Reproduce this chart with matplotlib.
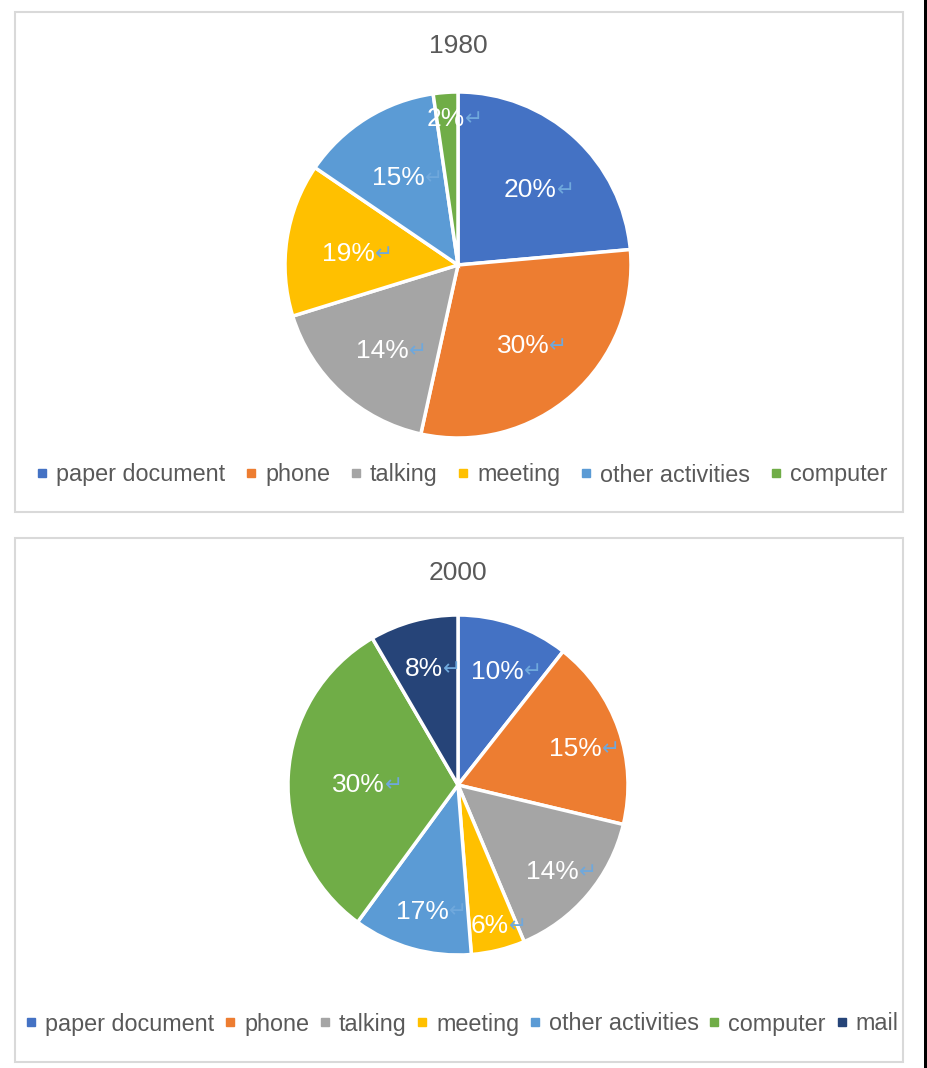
import numpy as np
import matplotlib.pyplot as plt
from matplotlib.patches import Rectangle
from matplotlib.lines import Line2D

W, H = 928, 1068

# 1980 chart: slice sizes, label texts as printed
categories_1980 = ['paper document', 'phone', 'talking', 'meeting', 'other activities', 'computer']
shares_1980 = [23.6, 29.9, 16.8, 14.3, 13.2, 2.3]
labels_1980 = ['20%', '30%', '14%', '19%', '15%', '2%']

# 2000 chart
categories_2000 = ['paper document', 'phone', 'talking', 'meeting', 'other activities', 'computer', 'mail']
shares_2000 = [10.6, 18.1, 14.9, 5.1, 11.3, 31.5, 8.4]
labels_2000 = ['10%', '15%', '14%', '6%', '17%', '30%', '8%']

colors = {
    'paper document': '#4472C4',
    'phone': '#ED7D31',
    'talking': '#A5A5A5',
    'meeting': '#FFC000',
    'other activities': '#5B9BD5',
    'computer': '#70AD47',
    'mail': '#264478',
}

FONT = ['Liberation Sans', 'DejaVu Sans']
TEXT_GRAY = '#595959'


def fx(x):
    return x / W


def fy(y):
    return 1 - y / H


def draw_panel(fig, box, title, title_y, cx, cy, R, cats, shares, labels,
               label_dist, legend_y, colspacing):
    x0, y0, x1, y1 = box
    fig.add_artist(Rectangle((fx(x0), fy(y1)), fx(x1) - fx(x0), fy(y0) - fy(y1),
                             transform=fig.transFigure, facecolor='none',
                             edgecolor='#D9D9D9', linewidth=1.5, zorder=-1))
    fig.text(fx(cx), fy(title_y), title, ha='center', va='center',
             fontsize=19, color=TEXT_GRAY, family=FONT)

    side = 2.5 * R
    ax = fig.add_axes([fx(cx - side / 2), fy(cy + side / 2), side / W, side / H])
    wedges, _ = ax.pie(shares, colors=[colors[c] for c in cats], startangle=90,
                       counterclock=False, radius=1,
                       wedgeprops=dict(edgecolor='white', linewidth=2.5))
    ax.set_xlim(-1.25, 1.25)
    ax.set_ylim(-1.25, 1.25)
    ax.set_aspect('equal')
    ax.axis('off')

    total = sum(shares)
    for w, s, lab in zip(wedges, shares, labels):
        mid = np.deg2rad((w.theta1 + w.theta2) / 2)
        d = label_dist
        if s / total > 0.25:
            d = 0.58
        if s / total < 0.08:
            d = 0.82
        if s / total < 0.04:
            d = 0.88
        t = ax.annotate(lab, xy=(d * np.cos(mid), d * np.sin(mid)),
                        xytext=(-1, -4), textcoords='offset points',
                        ha='center', va='center', fontsize=19,
                        color='white', family=FONT)
        ax.annotate('\u21b5', xy=(1, 0.5), xycoords=t, xytext=(0, 0),
                    textcoords='offset points', ha='left', va='center',
                    fontsize=15.5, color='#6FA8DC', family=['DejaVu Sans'])

    handles = [Line2D([], [], marker='s', linestyle='none', markersize=5.5,
                      markerfacecolor=colors[c], markeredgecolor=colors[c])
               for c in cats]
    fig.legend(handles, cats, loc='center', bbox_to_anchor=(fx(462), fy(legend_y)),
               ncol=len(cats), frameon=False, handlelength=0.5,
               handletextpad=0.35, columnspacing=colspacing, borderaxespad=0,
               prop={'family': FONT, 'size': 16.8}, labelcolor=TEXT_GRAY)


fig = plt.figure(figsize=(W / 100, H / 100), dpi=100)
fig.patch.set_facecolor('white')

draw_panel(fig, (15, 12, 903, 512), '1980', 46, 458, 265, 173,
           categories_1980, shares_1980, labels_1980, 0.63, 475, 0.85)
draw_panel(fig, (15, 538, 903, 1062), '2000', 573, 458, 785, 170,
           categories_2000, shares_2000, labels_2000, 0.74, 1024, 0.42)

# dark strip along the right edge of the screenshot
fig.add_artist(Rectangle((fx(924), 0), fx(4), 1, transform=fig.transFigure,
                         facecolor='black', edgecolor='none'))

fig.savefig('out.png', dpi=100)
